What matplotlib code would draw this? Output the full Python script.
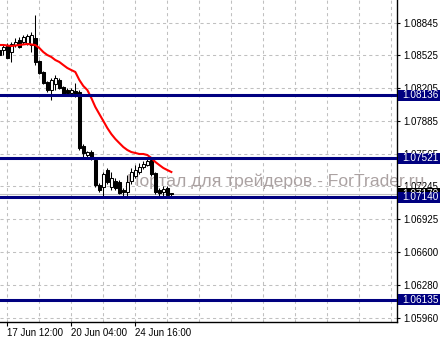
import numpy as np
import matplotlib
matplotlib.use('Agg')
import matplotlib.pyplot as plt
from matplotlib.patches import Rectangle
from matplotlib.transforms import blended_transform_factory

# H4 bars, index 0 = 17 Jun 12:00
bars = np.arange(-2, 42)
opens = [1.08578, 1.08578, 1.08627, 1.08558, 1.08627, 1.08676, 1.08656, 1.08646, 1.08627, 1.08695,
         1.08470, 1.08363, 1.08265, 1.08187, 1.08245, 1.08285, 1.08216, 1.08187, 1.08157, 1.08177,
         1.08167, 1.07639, 1.07551, 1.07580, 1.07502, 1.07258, 1.07238, 1.07404, 1.07238, 1.07297,
         1.07287, 1.07209, 1.07189, 1.07297, 1.07346, 1.07385, 1.07434, 1.07453, 1.07502, 1.07375,
         1.07209, 1.07189, 1.07228, 1.07179]
highs = [1.08598, 1.08637, 1.08646, 1.08656, 1.08695, 1.08705, 1.08725, 1.08735, 1.08754, 1.08920,
         1.08485, 1.08373, 1.08275, 1.08304, 1.08334, 1.08304, 1.08226, 1.08206, 1.08206, 1.08255,
         1.08187, 1.07659, 1.07590, 1.07600, 1.07522, 1.07277, 1.07385, 1.07424, 1.07385, 1.07326,
         1.07307, 1.07228, 1.07355, 1.07424, 1.07453, 1.07473, 1.07492, 1.07532, 1.07532, 1.07385,
         1.07228, 1.07248, 1.07248, 1.07179]
lows = [1.08510, 1.08529, 1.08495, 1.08461, 1.08607, 1.08598, 1.08637, 1.08627, 1.08558, 1.08431,
        1.08345, 1.08245, 1.08167, 1.08089, 1.08187, 1.08197, 1.08128, 1.08138, 1.08148, 1.08118,
        1.07600, 1.07522, 1.07532, 1.07502, 1.07238, 1.07189, 1.07140, 1.07267, 1.07209, 1.07209,
        1.07170, 1.07140, 1.07140, 1.07267, 1.07326, 1.07365, 1.07414, 1.07444, 1.07346, 1.07170,
        1.07150, 1.07150, 1.07150, 1.07140]
closes = [1.08529, 1.08607, 1.08500, 1.08637, 1.08656, 1.08607, 1.08705, 1.08715, 1.08725, 1.08461,
          1.08353, 1.08255, 1.08187, 1.08285, 1.08304, 1.08206, 1.08138, 1.08157, 1.08187, 1.08138,
          1.07620, 1.07571, 1.07580, 1.07522, 1.07258, 1.07209, 1.07365, 1.07287, 1.07326, 1.07228,
          1.07179, 1.07189, 1.07287, 1.07385, 1.07404, 1.07434, 1.07463, 1.07492, 1.07365, 1.07189,
          1.07179, 1.07219, 1.07160, 1.07170]
ma = [1.08627, 1.08627, 1.08622, 1.08617, 1.08622, 1.08627, 1.08632, 1.08637, 1.08632, 1.08627,
      1.08598, 1.08558, 1.08529, 1.08510, 1.08480, 1.08461, 1.08431, 1.08402, 1.08382, 1.08363,
      1.08285, 1.08226, 1.08187, 1.08109, 1.08021, 1.07952, 1.07884, 1.07815, 1.07756, 1.07708,
      1.07668, 1.07629, 1.07600, 1.07580, 1.07571, 1.07561, 1.07561, 1.07551, 1.07522, 1.07483,
      1.07453, 1.07424, 1.07404, 1.07385]

levels = [1.08136, 1.07521, 1.07140, 1.06135]
bid = 1.07170
price_ticks = [1.08845, 1.08525, 1.08205, 1.07885, 1.07565, 1.07245, 1.06925, 1.06600, 1.06280, 1.05960]
time_ticks = [0, 16, 32]
time_labels = ['17 Jun 12:00', '20 Jun 04:00', '24 Jun 16:00']

plt.rcParams['font.family'] = ['Liberation Sans', 'DejaVu Sans']

fig = plt.figure(figsize=(4.4, 3.4), dpi=100)
ax = fig.add_axes([0, 18 / 340, 397 / 440, 322 / 340])
ax.set_xlim(-1.825, 97.4)
ax.set_ylim(1.05918, 1.09067)

# grid
ax.set_xticks(time_ticks)
ax.set_xticklabels(time_labels, ha='left', fontsize=7)
ax.set_xticks(np.arange(0, 97, 8), minor=True)
ax.tick_params(axis='x', which='minor', length=0)
ax.tick_params(axis='x', which='major', length=3, width=0.8, pad=1.5)
ax.set_yticks(price_ticks)
ax.set_yticklabels(['%.5f' % p for p in price_ticks], fontsize=7)
ax.yaxis.tick_right()
ax.tick_params(axis='y', length=2.5, width=0.8, pad=2)
ax.grid(True, which='both', color='#c0c0c0', linestyle=(0, (3, 3)), linewidth=0.75)
ax.set_axisbelow(True)
for s in ['top', 'left']:
    ax.spines[s].set_visible(False)
for s in ['right', 'bottom']:
    ax.spines[s].set_linewidth(1)

# watermark
ax.text(127 / 397, 1.07252, 'Портал для трейдеров - ForTrader.ru', transform=blended_transform_factory(ax.transAxes, ax.transData),
        fontsize=12.6, color='#aba2a2', va='baseline', ha='left', clip_on=False, zorder=1)

# bid line
ax.axhline(bid, color='#c0c0c0', lw=0.8, zorder=2)

# candles
for x, o, h, l, c in zip(bars, opens, highs, lows, closes):
    ax.vlines(x, l, h, color='black', lw=0.75, zorder=3)
    lo, hi = min(o, c), max(o, c)
    face = 'white' if c > o else 'black'
    ax.add_patch(Rectangle((x - 0.3, lo), 0.6, max(hi - lo, 0.00002), facecolor=face,
                           edgecolor='black', lw=0.75, zorder=4))

ax.plot(bars, ma, color='#ff0000', lw=1.5, zorder=5)

# levels
for lv in levels:
    ax.axhline(lv, color='#000080', lw=2.2, zorder=6)

tr = blended_transform_factory(fig.transFigure, ax.transData)
h = 11 * 0.0000978
ax.add_patch(Rectangle((398 / 440, bid - h / 2), 42 / 440, h, transform=tr, facecolor='black',
                       edgecolor='none', clip_on=False, zorder=7))
ax.text(402 / 440, bid, '%.5f' % bid, transform=tr, color='white', fontsize=7.2, va='center',
        ha='left', clip_on=False, zorder=7)
for lv in levels:
    ax.add_patch(Rectangle((398 / 440, lv - h / 2), 42 / 440, h, transform=tr, facecolor='#000080',
                           edgecolor='none', clip_on=False, zorder=8))
    ax.text(402 / 440, lv, '%.5f' % lv, transform=tr, color='white', fontsize=7.2, va='center',
            ha='left', clip_on=False, zorder=9)

fig.savefig('out.png', dpi=100)
